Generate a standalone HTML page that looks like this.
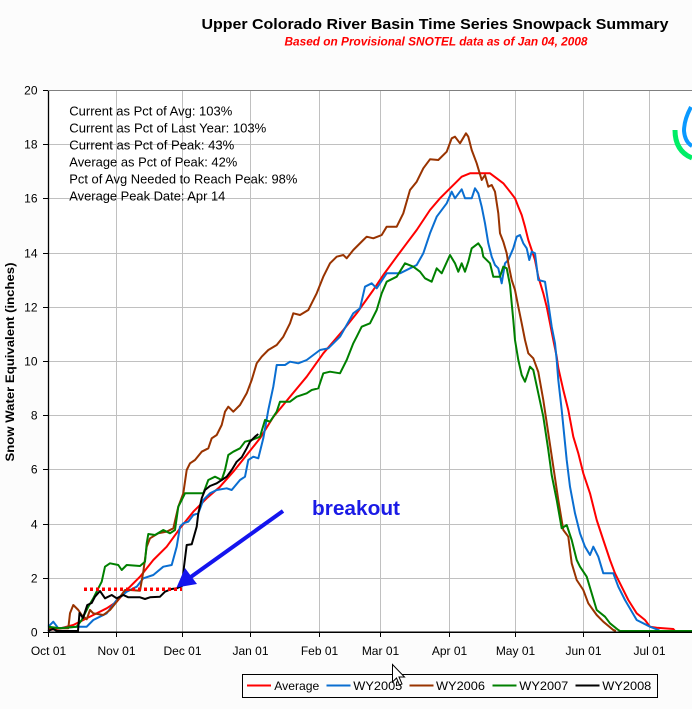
<!DOCTYPE html>
<html>
<head>
<meta charset="utf-8">
<style>
html,body{margin:0;padding:0;background:#fcfcfc;}
svg{display:block;}
text{font-family:"Liberation Sans",Arial,sans-serif;}
</style>
</head>
<body>
<svg width="692" height="709" viewBox="0 0 692 709" xmlns="http://www.w3.org/2000/svg">
<rect x="0" y="0" width="692" height="709" fill="#fcfcfc"/>
<rect x="48" y="91" width="644" height="541" fill="#ffffff"/>

<!-- Titles -->
<text x="201.5" y="29" font-size="15" font-weight="bold" fill="#000" textLength="467" lengthAdjust="spacingAndGlyphs">Upper Colorado River Basin Time Series Snowpack Summary</text>
<text x="284.5" y="45.5" font-size="11.5" font-weight="bold" font-style="italic" fill="#ff0000" textLength="303" lengthAdjust="spacingAndGlyphs">Based on Provisional SNOTEL data as of Jan 04, 2008</text>

<!-- gridlines -->
<g stroke="#c0c0c0" stroke-width="1" fill="none">
<line x1="48" y1="578.5" x2="692" y2="578.5"/>
<line x1="48" y1="524.5" x2="692" y2="524.5"/>
<line x1="48" y1="469.5" x2="692" y2="469.5"/>
<line x1="48" y1="415.5" x2="692" y2="415.5"/>
<line x1="48" y1="361.5" x2="692" y2="361.5"/>
<line x1="48" y1="307.5" x2="692" y2="307.5"/>
<line x1="48" y1="253.5" x2="692" y2="253.5"/>
<line x1="48" y1="198.5" x2="692" y2="198.5"/>
<line x1="48" y1="144.5" x2="692" y2="144.5"/>
<line x1="116.5" y1="91" x2="116.5" y2="632"/>
<line x1="182.5" y1="91" x2="182.5" y2="632"/>
<line x1="250.5" y1="91" x2="250.5" y2="632"/>
<line x1="319.5" y1="91" x2="319.5" y2="632"/>
<line x1="380.5" y1="91" x2="380.5" y2="632"/>
<line x1="449.5" y1="91" x2="449.5" y2="632"/>
<line x1="515.5" y1="91" x2="515.5" y2="632"/>
<line x1="583.5" y1="91" x2="583.5" y2="632"/>
<line x1="649.5" y1="91" x2="649.5" y2="632"/>
</g>
<line x1="48" y1="90.5" x2="692" y2="90.5" stroke="#808080" stroke-width="1"/>

<!-- logo partial -->
<path d="M 691,107 Q 684,120 684,131 Q 685,142 692,146" fill="none" stroke="#0a99ff" stroke-width="4"/>
<path d="M 675,130 Q 675,151 692,158" fill="none" stroke="#00ee66" stroke-width="5"/>

<!-- stats text -->
<g font-size="13" fill="#000">
<text x="69.3" y="115.5" textLength="163" lengthAdjust="spacingAndGlyphs">Current as Pct of Avg: 103%</text>
<text x="69.3" y="132.5" textLength="197" lengthAdjust="spacingAndGlyphs">Current as Pct of Last Year: 103%</text>
<text x="69.3" y="149.5" textLength="165" lengthAdjust="spacingAndGlyphs">Current as Pct of Peak: 43%</text>
<text x="69.3" y="166.5" textLength="168" lengthAdjust="spacingAndGlyphs">Average as Pct of Peak: 42%</text>
<text x="69.3" y="183.5" textLength="228" lengthAdjust="spacingAndGlyphs">Pct of Avg Needed to Reach Peak: 98%</text>
<text x="69.3" y="200.5" textLength="156" lengthAdjust="spacingAndGlyphs">Average Peak Date: Apr 14</text>
</g>

<!-- series -->
<g fill="none" stroke-width="2" stroke-linejoin="round">
<polyline stroke="#ff0000" points="48.3,630 60,628.5 73.3,625 83.3,620 93.3,615 106.7,608.3 116.7,601.7 126.7,590 140,576.7 153.3,560 166.7,546.7 180,528.3 193.3,511.7 206.7,498.3 220,486.7 233.3,471.7 246.7,455 260,438.3 273.3,417 290,396.7 306.7,376.7 323.3,353.3 343.3,330 356.7,313.3 373.3,290 383.3,275 396.7,256.7 406.7,243.3 416.7,230 430,210 440,198.3 450,188.3 456.7,181.7 461.7,176.7 470,173.3 490,173.3 496.7,178.3 503.3,183.3 510,191.7 515,198.3 518.3,206.7 521.7,215 525,226.7 528.3,240 531.7,250 535,260 538.3,276.7 543.3,293.3 546.7,306.7 550,323.3 553.3,340 556.7,356.7 558.3,368 563.3,390 568.3,410 573.3,436.7 578.3,453.3 583.3,473.3 590,493.3 596.7,520 603.3,540 610,560 615,573.3 620,583.3 628.3,600 636.7,613.3 645,620 650,626.7 656.7,627.7 673.3,629 675,631"/>
<polyline stroke="#0a6ed1" points="48.3,626.7 53.3,621.7 58.3,628.3 76.7,626.7 86.7,626.7 93.3,620 106.7,613.3 116.7,600 126.7,591.7 136.7,586.7 143.3,578.3 153.3,575 163.3,566.7 171.7,565 176.7,546.7 180,526.7 183.3,523.3 188.3,521.7 193.3,515 198.3,513.3 203.3,500 210,493.3 216.7,490 226.7,488.3 231.7,490 240,480 245,476.7 248.3,460 253.3,456.7 258.3,458.3 263.3,438.3 268.3,410 273.3,386.7 276.7,365 285,365 290,361.7 298.3,363.3 306.7,360 320,350 328.3,348.3 340,336.7 353.3,313.3 360,308.3 365,286.7 371.7,283.3 376.7,288.3 383.3,278.3 386.7,273.3 400,273.3 416.7,265 423.3,253.3 430,233.3 436.7,216.7 446.7,203.3 451.7,191.7 455,198.3 461.7,189.3 465,198.3 471.7,198.3 475,188.3 478.3,193.3 481.7,206.7 485,223.3 488.3,243.3 491.7,256.7 495,265 498.3,268.3 501.7,283.3 505,263.3 508.3,260 513.3,248.3 516.7,236.7 520,235 523.3,243.3 526.7,248.3 529.3,260 531.7,251.7 535,253.3 538.3,280 545,281.7 548.3,303.3 551.7,326.7 555,343.3 556.7,360 558.3,380 561.7,410 566.7,460 570,486.7 575,513.3 580,533.3 585,546.7 590,555 593.3,546.7 598.3,556.7 603.3,573.3 613.3,573.3 618.3,586.7 625,600 636.7,620 650,626.7 658.3,630 660,631"/>
<polyline stroke="#993300" points="48.3,628.3 68.3,628.3 70,613.3 73.3,605 78.3,610 81.7,615 86.7,619.3 90,610 93.3,613.3 103.3,615 110,610 116.7,601.7 125,590 130,590 140,590.7 143.3,571.7 146.7,546.7 150,538.3 158.3,533.3 166.7,531.7 173.3,528.3 178.3,506.7 183.3,493.3 186.7,470 190,463.3 195,460 201.7,451.7 208.3,448.3 211.7,438.3 216.7,435 221.7,425 225,411.7 228.3,406.7 233.3,411.7 240,405 246.7,393.3 251.7,380 256.7,363.3 261.7,356.7 268.3,350 276.7,345 283.3,336.7 290,323.3 293.3,313.3 300,315 308.3,310 316.7,293.3 323.3,276.7 330,263.3 336.7,256.7 343.3,255 346.7,258.3 353.3,250 363.3,240 366.7,236.7 373.3,238.3 381.7,235 386.7,226.7 396.7,226.7 403.3,213.3 410,190 416.7,181.7 423.3,168.3 430,159.3 438.3,160 446.7,151.7 451.7,138.3 455,136.7 460,143.3 466,133.3 468.3,136.7 471.7,150 476.7,163.3 481.7,180 485,175 488.3,186.7 491.7,185 495,191.7 498.3,213.3 500,233.3 503.3,241.7 506.7,253.3 508.3,263.3 511.7,280 515,290 518.3,306.7 521.7,323.3 525,340 528.3,353.3 533.3,358.3 538.3,372 543.3,400 548.3,433.3 553.3,466.7 558.3,500 563.3,530 568.3,536.7 571.7,563.3 576.7,580 583.3,590 588.3,603.3 596.7,615 603.3,621.7 613.3,630 616,631"/>
<polyline stroke="#008000" points="48.3,626.7 60,628.3 76.7,626.7 81.7,620 88.3,606.7 93.3,598.3 98.3,588.3 101.7,581.7 105,566.7 110,563.3 118.3,565 121.7,570 126.7,565 140,566 145,561.7 146.7,543.3 148.3,534 155,535 163.3,530 170,533.3 175,530 178.3,506.7 181.7,500 185,493.3 203.3,493.3 208.3,480 215,476.7 221.7,480 225,470 228.3,455 233.3,451.7 240,448.3 245,441.7 251.7,440 260,436.7 265,420 270,421.7 276.7,411.7 280,401.7 290,401.7 296.7,396.7 306.7,393.3 311.7,390 318.3,388.3 323.3,373.3 330,371.7 340,373.3 346.7,360 353.3,343.3 356.7,336.7 361.7,326.7 370,323.3 376.7,310 381.7,293.3 386.7,281.7 396.7,276.7 405,263.3 413.3,266.7 420,271.7 425,278.3 431.7,281.7 436.7,268.3 441.7,273.3 450,255 455,263.3 458.3,271.7 461.7,263.3 465,271.7 468.3,261.7 471.7,248.3 478.3,243.3 481.7,248.3 483.3,256.7 490,263.3 493.3,276.7 500,276.7 503.3,266.7 506.7,268.3 510,285 511.7,303.3 513.3,320 515,340 518.3,360 521.7,375 525,381.7 530,366.7 533.3,370 538.3,393.3 543.3,416.7 548.3,450 551.7,475 556.7,500 561.7,528.3 566.7,525 571.7,540 576.7,560 580,566.7 586.7,576.7 591.7,593.3 596.7,610 605,616.7 610,623.3 618.3,630 620,631 692,631"/>
<polyline stroke="#000000" points="48,631 53,629 57,631 78,631 79.5,613 83,618 87.3,605 91.7,603 95,596.7 100,591 105,598.3 111.7,595 116.7,598.3 123.3,595 128.3,597.3 140,597.3 145,599 150,597.3 160,596.7 165,591.7 171.7,589 176.7,588.3 182,586 184,566.7 186.7,545 191.7,544.3 196.7,526.7 198.3,513.3 201.7,498.3 205,490 210,486 216.7,483.3 221.7,480 226.7,476.7 231.7,470 236.7,461.7 241.7,457.3 246.7,448.3 250,441.7 255,436.7 258.3,434"/>
</g>

<!-- red dotted line -->
<line x1="84" y1="589.3" x2="182" y2="589.3" stroke="#ff0000" stroke-width="3.5" stroke-dasharray="3,3"/>

<!-- blue arrow -->
<line x1="283" y1="511" x2="188" y2="579" stroke="#1414ee" stroke-width="4"/>
<polygon points="176.5,587.5 185,568 197,584" fill="#1414ee"/>
<text x="312" y="515" font-size="20" font-weight="bold" fill="#1a1ae6" textLength="88" lengthAdjust="spacingAndGlyphs">breakout</text>

<!-- axes -->
<line x1="48.5" y1="91" x2="48.5" y2="633" stroke="#000" stroke-width="1.3"/>
<line x1="48" y1="632.3" x2="692" y2="632.3" stroke="#000" stroke-width="1.5"/>
<g stroke="#000" stroke-width="1">
<line x1="43" y1="632.5" x2="48" y2="632.5"/>
<line x1="43" y1="578.5" x2="48" y2="578.5"/>
<line x1="43" y1="524.5" x2="48" y2="524.5"/>
<line x1="43" y1="469.5" x2="48" y2="469.5"/>
<line x1="43" y1="415.5" x2="48" y2="415.5"/>
<line x1="43" y1="361.5" x2="48" y2="361.5"/>
<line x1="43" y1="307.5" x2="48" y2="307.5"/>
<line x1="43" y1="253.5" x2="48" y2="253.5"/>
<line x1="43" y1="198.5" x2="48" y2="198.5"/>
<line x1="43" y1="144.5" x2="48" y2="144.5"/>
<line x1="43" y1="90.5" x2="48" y2="90.5"/>
<line x1="48.5" y1="632" x2="48.5" y2="637"/>
<line x1="116.5" y1="632" x2="116.5" y2="637"/>
<line x1="182.5" y1="632" x2="182.5" y2="637"/>
<line x1="250.5" y1="632" x2="250.5" y2="637"/>
<line x1="319.5" y1="632" x2="319.5" y2="637"/>
<line x1="380.5" y1="632" x2="380.5" y2="637"/>
<line x1="449.5" y1="632" x2="449.5" y2="637"/>
<line x1="515.5" y1="632" x2="515.5" y2="637"/>
<line x1="583.5" y1="632" x2="583.5" y2="637"/>
<line x1="649.5" y1="632" x2="649.5" y2="637"/>
</g>

<!-- y tick labels -->
<g font-size="12" fill="#000" text-anchor="end">
<text x="37.5" y="636.5">0</text>
<text x="37.5" y="582.5">2</text>
<text x="37.5" y="528.5">4</text>
<text x="37.5" y="473.5">6</text>
<text x="37.5" y="419.5">8</text>
<text x="37.5" y="365.5">10</text>
<text x="37.5" y="311.5">12</text>
<text x="37.5" y="257.5">14</text>
<text x="37.5" y="202.5">16</text>
<text x="37.5" y="148.5">18</text>
<text x="37.5" y="94.5">20</text>
</g>

<!-- x tick labels -->
<g font-size="12" fill="#000" text-anchor="middle">
<text x="48.5" y="655">Oct 01</text>
<text x="116.5" y="655">Nov 01</text>
<text x="182.5" y="655">Dec 01</text>
<text x="250.5" y="655">Jan 01</text>
<text x="319.5" y="655">Feb 01</text>
<text x="380.5" y="655">Mar 01</text>
<text x="449.5" y="655">Apr 01</text>
<text x="515.5" y="655">May 01</text>
<text x="583.5" y="655">Jun 01</text>
<text x="649.5" y="655">Jul 01</text>
</g>

<!-- y axis title -->
<text transform="translate(14,362) rotate(-90)" font-size="12" font-weight="bold" fill="#000" text-anchor="middle" textLength="199" lengthAdjust="spacingAndGlyphs">Snow Water Equivalent (inches)</text>

<!-- legend -->
<rect x="242.5" y="674.5" width="415" height="23" fill="#fcfcfc" stroke="#000" stroke-width="1"/>
<g stroke-width="2">
<line x1="247" y1="685.5" x2="271" y2="685.5" stroke="#ff0000"/>
<line x1="326.5" y1="685.5" x2="350.5" y2="685.5" stroke="#0a6ed1"/>
<line x1="409.5" y1="685.5" x2="433.5" y2="685.5" stroke="#993300"/>
<line x1="492.5" y1="685.5" x2="516.5" y2="685.5" stroke="#008000"/>
<line x1="575.5" y1="685.5" x2="599.5" y2="685.5" stroke="#000000"/>
</g>
<g font-size="12" fill="#000">
<text x="274.3" y="690" textLength="45" lengthAdjust="spacingAndGlyphs">Average</text>
<text x="353.3" y="690" textLength="49" lengthAdjust="spacingAndGlyphs">WY2005</text>
<text x="436" y="690" textLength="49" lengthAdjust="spacingAndGlyphs">WY2006</text>
<text x="519.3" y="690" textLength="49" lengthAdjust="spacingAndGlyphs">WY2007</text>
<text x="602.3" y="690" textLength="49" lengthAdjust="spacingAndGlyphs">WY2008</text>
</g>

<!-- mouse cursor -->
<polygon points="392.5,664.5 392.5,682 396.5,678 399.5,685 402,684 399,677 404.5,677" fill="#ffffff" stroke="#000" stroke-width="1"/>
</svg>
</body>
</html>
